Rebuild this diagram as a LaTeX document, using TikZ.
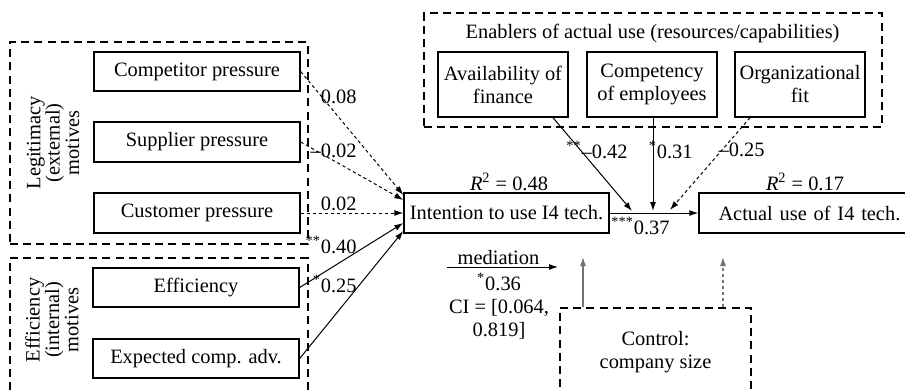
\documentclass[tikz,border=0pt]{standalone}
\usepackage{fontspec}
\setmainfont{Liberation Serif}
\usetikzlibrary{arrows.meta,calc}
\begin{document}
\begin{tikzpicture}[x=0.5pt,y=-0.5pt,
  txt/.style={font=\fontsize{10.2pt}{11.5pt}\selectfont, inner sep=0pt, align=center},
  rot/.style={font=\fontsize{10.2pt}{9.7pt}\selectfont, inner sep=0pt, align=center, rotate=90},
  bx/.style={txt, draw, line width=0.7pt},
  grp/.style={draw, line width=1.1pt, dash pattern=on 4pt off 2.6pt, inner sep=0pt},
  arr/.style={-{Latex[length=4.5pt,width=3pt]}, line width=0.5pt},
  darr/.style={arr, dash pattern=on 1.6pt off 1.4pt},
  garr/.style={arr, draw=black!55, line width=0.6pt},
  lbl/.style={txt, anchor=east}
]
\path[use as bounding box, clip] (0,0) rectangle (905,390);

% groups
\node[grp, minimum width=149pt, minimum height=101pt] (legit) at (159,143) {};
\node[grp, minimum width=149pt, minimum height=69pt] (effgrp) at (159,327) {};
\node[grp, minimum width=229pt, minimum height=57pt] (enab) at (653,70) {};
\node[grp, txt, minimum width=95.5pt, minimum height=44pt] (ctrl) at (655.5,352) {Control:\\company size};

\node[rot] (legitT) at (53,143) {Legitimacy\\(external)\\motives};
\node[rot] (effT) at (52,320) {Efficiency\\(internal)\\motives};
\node[txt] (enabT) at (652.5,33) {Enablers of actual use (resources/capabilities)};

% boxes
\node[bx, minimum width=103pt, minimum height=19.5pt] (comp) at (197,71.5) {Competitor pressure};
\node[bx, minimum width=103pt, minimum height=20pt] (sup) at (197,142) {Supplier pressure};
\node[bx, minimum width=103pt, minimum height=20pt] (cust) at (197,213) {Customer pressure};
\node[bx, minimum width=103pt, minimum height=19.5pt] (eff) at (196,287.5) {Efficiency};
\node[bx, minimum width=103pt, minimum height=19.5pt] (exp) at (196,358.5) {Expected comp. adv.};
\node[bx, minimum width=102.5pt, minimum height=20pt] (int) at (506.5,213) {Intention to use I4 tech.};
\node[bx, minimum width=106.5pt, minimum height=20pt, text width=103pt, align=left, inner xsep=0pt] (act) at (805.5,213) {\hspace*{8pt}Actual use of I4 tech.};
\node[bx, minimum width=65pt, minimum height=32.5pt] (avail) at (503,84.5) {Availability of\\finance};
\node[bx, minimum width=65pt, minimum height=32.5pt] (compet) at (652,84.5) {Competency\\of employees};
\node[bx, minimum width=65pt, minimum height=32.5pt] (org) at (800,84.5) {Organizational\\fit};

\node[txt] (r1) at (509,182) {\textit{R}\textsuperscript{2} = 0.48};
\node[txt] (r2) at (805,182) {\textit{R}\textsuperscript{2} = 0.17};

% left arrows
\draw[darr] (comp.east) -- ([yshift=9pt]int.west);
\draw[darr] (sup.east) -- ([yshift=6.5pt]int.west);
\draw[darr] (cust.east) -- (int.west);
\draw[arr] (eff.east) -- ([yshift=-5pt]int.west);
\draw[arr] (exp.east) -- ([yshift=-9pt]int.west);

\node[lbl] (l1) at (357,97) {0.08};
\node[lbl] (l2) at (357,151) {–0.02};
\node[lbl] (l3) at (357,204) {0.02};
\node[lbl] (l4) at (357,245) {\textsuperscript{**}0.40};
\node[lbl] (l5) at (357,284) {\textsuperscript{*}0.25};

% main path
\draw[arr] (int.east) -- (act.west);
\coordinate (j1) at (632,211);
\coordinate (j2) at (653,211);
\coordinate (j3) at (670,210);
\draw[arr] ([xshift=25pt]avail.south) -- (j1);
\draw[arr] ([xshift=0.5pt]compet.south) -- (j2);
\draw[darr] ([xshift=-25pt]org.south) -- (j3);

\node[lbl] (l6) at (628,150) {\textsuperscript{**}–0.42};
\node[lbl] (l7) at (693,150) {\textsuperscript{*}0.31};
\node[lbl] (l8) at (765,150) {–0.25};
\node[lbl] (l9) at (670,226) {\textsuperscript{***}0.37};

% mediation
\coordinate (medA) at (447,267);
\coordinate (medB) at (558,267);
\draw[arr] (medA) -- (medB);
\node[txt] (medT) at (498.5,258) {mediation};
\node[txt, anchor=north] (medV) at (499,273) {\textsuperscript{*}0.36\\CI = [0.064,\\0.819]};

% control arrows
\coordinate (c1) at (583,257);
\coordinate (c2) at (723,257);
\draw[garr] ([xshift=-36.25pt]ctrl.north) -- (c1);
\draw[garr, dash pattern=on 1.6pt off 1.4pt] ([xshift=33.75pt]ctrl.north) -- (c2);
\end{tikzpicture}
\end{document}
